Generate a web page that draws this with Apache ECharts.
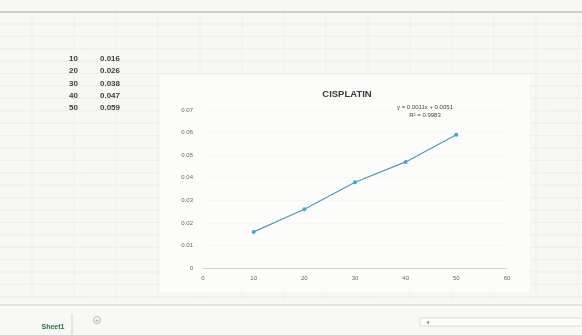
<!DOCTYPE html>
<html>
<head>
<meta charset="utf-8">
<script src="https://cdn.jsdelivr.net/npm/echarts@6/dist/echarts.min.js"></script>
<style>
  html, body { margin: 0; padding: 0; background: #f7f7f5; }
  #chart { width: 582px; height: 335px; }
</style>
</head>
<body>
<div id="chart"></div>
<script>
// Concentration (x) and absorbance (y) for the cisplatin calibration
const concentrations = [10, 20, 30, 40, 50];
const absorbances = [0.016, 0.026, 0.038, 0.047, 0.059];
const chartTitle = 'CISPLATIN';
const trendEquation = 'y = 0.0011x + 0.0051';
const trendR2 = 'R² = 0.9983';
const sheetName = 'Sheet1';

const chart = echarts.init(document.getElementById('chart'));

// Worksheet cell grid behind the chart object
const sheetGraphics = [];
sheetGraphics.push({ type: 'rect', shape: { x: 0, y: 0, width: 582, height: 335 }, style: { fill: '#f7f7f5' }, z: -10 });
for (let y = 24; y < 300; y += 12.4) {
  sheetGraphics.push({ type: 'line', shape: { x1: 0, y1: y, x2: 582, y2: y }, style: { stroke: '#e6e6e3', lineWidth: 0.6 }, z: -9 });
}
for (let x = 32; x < 582; x += 42) {
  sheetGraphics.push({ type: 'line', shape: { x1: x, y1: 12, x2: x, y2: 300 }, style: { stroke: '#eaeae7', lineWidth: 0.6 }, z: -9 });
}
sheetGraphics.push({ type: 'line', shape: { x1: 0, y1: 12, x2: 582, y2: 12 }, style: { stroke: '#a4a4a2', lineWidth: 1 }, z: -8 });

// Data cells listed at the top left of the sheet
concentrations.forEach((c, i) => {
  const y = 59 + i * 12.2;
  sheetGraphics.push({ type: 'text', style: { x: 78, y: y, text: String(c), fill: '#404040', font: '600 8px "Liberation Sans", Arial', align: 'right', verticalAlign: 'middle' }, z: -5 });
  sheetGraphics.push({ type: 'text', style: { x: 100, y: y, text: absorbances[i].toFixed(3), fill: '#404040', font: '600 8px "Liberation Sans", Arial', align: 'left', verticalAlign: 'middle' }, z: -5 });
});

// Chart object area
sheetGraphics.push({ type: 'rect', shape: { x: 160, y: 75, width: 370, height: 217 }, style: { fill: '#fcfcfb' }, z: -7 });

// Trendline label
sheetGraphics.push({ type: 'text', style: { x: 425, y: 107, text: trendEquation, fill: '#444', font: '6px "Liberation Sans", Arial', align: 'center', verticalAlign: 'middle' }, z: 5 });
sheetGraphics.push({ type: 'text', style: { x: 425, y: 115, text: trendR2, fill: '#444', font: '6px "Liberation Sans", Arial', align: 'center', verticalAlign: 'middle' }, z: 5 });

// Bottom sheet tab bar
sheetGraphics.push({ type: 'line', shape: { x1: 0, y1: 305, x2: 582, y2: 305 }, style: { stroke: '#cfcfcd', lineWidth: 1 }, z: -8 });
sheetGraphics.push({ type: 'rect', shape: { x: 0, y: 306, width: 582, height: 29 }, style: { fill: '#f8f8f6' }, z: -8 });
sheetGraphics.push({ type: 'line', shape: { x1: 72, y1: 314, x2: 72, y2: 335 }, style: { stroke: '#cfcfcd', lineWidth: 1 }, z: -7 });
sheetGraphics.push({ type: 'text', style: { x: 53, y: 327, text: sheetName, fill: '#2f6f3e', font: 'bold 7px "Liberation Sans", Arial', align: 'center', verticalAlign: 'middle' }, z: -6 });
sheetGraphics.push({ type: 'circle', shape: { cx: 97, cy: 320, r: 3.5 }, style: { fill: 'none', stroke: '#999', lineWidth: 0.7 }, z: -6 });
sheetGraphics.push({ type: 'text', style: { x: 97, y: 320, text: '+', fill: '#888', font: '6px Arial', align: 'center', verticalAlign: 'middle' }, z: -6 });
sheetGraphics.push({ type: 'rect', shape: { x: 420, y: 318, width: 162, height: 8 }, style: { fill: '#fcfcfb', stroke: '#cfcfcd', lineWidth: 0.7 }, z: -6 });
sheetGraphics.push({ type: 'text', style: { x: 427, y: 322, text: '◂', fill: '#888', font: '6px Arial', align: 'center', verticalAlign: 'middle' }, z: -6 });

chart.setOption({
  animation: false,
  backgroundColor: 'transparent',
  title: {
    text: chartTitle,
    left: 342,
    top: 84,
    textAlign: 'center',
    textStyle: { fontSize: 9.5, fontWeight: 'bold', color: '#3a3a3a', fontFamily: '"Liberation Sans", Arial' }
  },
  graphic: sheetGraphics,
  grid: { left: 203, right: 75, top: 110, bottom: 67, containLabel: false },
  xAxis: {
    type: 'value',
    min: 0, max: 60, interval: 10,
    axisLine: { show: true, lineStyle: { color: '#d6d6d4', width: 1 } },
    axisTick: { show: false },
    splitLine: { show: false },
    axisLabel: { color: '#666', fontSize: 6, margin: 7, fontFamily: '"Liberation Sans", Arial' }
  },
  yAxis: {
    type: 'value',
    min: 0, max: 0.07, interval: 0.01,
    axisLine: { show: false },
    axisTick: { show: false },
    splitLine: { show: true, lineStyle: { color: '#f3f3f1', width: 0.6 } },
    axisLabel: { color: '#666', fontSize: 6, margin: 10, fontFamily: '"Liberation Sans", Arial', formatter: v => (v === 0 ? '0' : v.toFixed(2)) }
  },
  series: [{
    type: 'line',
    data: concentrations.map((c, i) => [c, absorbances[i]]),
    symbol: 'circle',
    symbolSize: 4,
    lineStyle: { color: '#4f9bb5', width: 1.2 },
    itemStyle: { color: '#45a7d2' }
  }]
});
</script>
</body>
</html>
